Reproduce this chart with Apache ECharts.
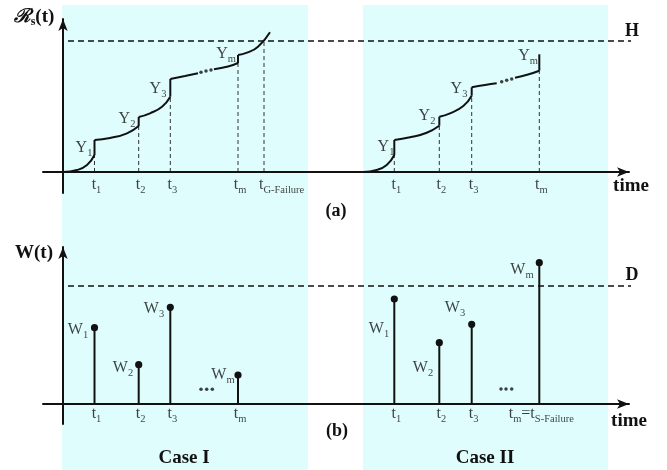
<!DOCTYPE html>
<html><head><meta charset="utf-8">
<script src="https://cdn.jsdelivr.net/npm/echarts@6/dist/echarts.min.js"></script>
<style>html,body{margin:0;padding:0;background:#fff}#c{width:667px;height:470px}</style>
</head><body><div id="c"></div>
<script>
// ---------------- data ----------------
const caseSpans = [[-1, 245], [300, 545]];      // shaded Case I / Case II time spans
const caseNames = ['Case I', 'Case II'];
const H = 131;                                   // threshold H (panel a)
const D = 118;                                   // threshold D (panel b)
const thresholdSpan = [5, 572];

// panel (a): degradation path segments (between shocks)
const pathI = [
  [[0,0],[14,2],[24,7],[31.5,17]],
  [[31.5,32],[47,34],[64,38.7],[75.7,46]],
  [[75.7,55],[87,58.7],[99,65.3],[107.3,75.3]],
  [[107.3,93],[122,96],[135,98.7]],
  [[151,102.7],[165,105.5],[175,109]],
  [[175,117],[184,119.3],[195,125.3],[207,139.7]]
];
const pathII = [
  [[300,0],[313.7,2],[323.7,7],[331.3,17]],
  [[331.3,32],[347,34.7],[363.7,39.3],[376.3,46.3]],
  [[376.3,55.3],[387,58.7],[400.3,66],[408.7,76.3]],
  [[408.7,84.7],[422,87],[433.7,88.7]],
  [[452,94.3],[465,97.5],[476.3,101.3]],
  [[476.3,117.7]]
];
const dotsTopI  = [[138,99.7],[143,101],[148,102]];
const dotsTopII = [[438.7,90.3],[443.7,91.7],[448.7,93]];

// shock times
const tI  = [31.5, 75.7, 107.3, 175];
const tGFail = 201;
const tII = [331.3, 376.3, 408.7, 476.3];
const subs = ['1','2','3','m'];

// panel (b): shock magnitudes
const wI  = [76.3, 39.3, 96.7, 29];
const wII = [105, 61.3, 79.7, 141.3];
const dotsBotI  = [[138,14.7],[143.7,14.7],[149.3,14.7]];
const dotsBotII = [[438,15],[443,15],[448.7,15]];

// ---------------- styling ----------------
const INK = '#111';
const SERIF = '"Liberation Serif","DejaVu Serif",serif';
const rich = {
  m: {fontFamily: SERIF, fontSize: 16, color: INK},
  s: {fontFamily: SERIF, fontSize: 10.5, color: INK, padding: [10,0,0,0]}
};
const sub = (a, b) => `{m|${a}}{s|${b}}`;

const chart = echarts.init(document.getElementById('c'), null, {renderer: 'canvas'});

function axisX(g, show) {
  return {type:'value', gridIndex:g, min:-20, max:566, show: show, z: 4,
    axisLine:{show:true, onZero:true, symbol:['none','arrow'], symbolSize:[7,12], lineStyle:{color:INK, width:2}},
    axisTick:{show:false}, axisLabel:{show:false}, splitLine:{show:false}};
}
function axisY(g, min, max, show) {
  return {type:'value', gridIndex:g, min:min, max:max, show: show, z: 4,
    axisLine:{show:true, onZero:true, symbol:['none','arrow'], symbolSize:[7,12], lineStyle:{color:INK, width:2}},
    axisTick:{show:false}, axisLabel:{show:false}, splitLine:{show:false}};
}

const series = [];
// background shading
series.push({type:'line', xAxisIndex:2, yAxisIndex:2, data:[[0,0]], symbol:'none', lineStyle:{opacity:0}, z:1, silent:true,
  markArea:{silent:true, itemStyle:{color:'#e0fdfd'}, data: caseSpans.map(s => [{xAxis:s[0]},{xAxis:s[1]}])}});

function addPath(path, g) {
  path.forEach((seg, k) => {
    if (seg.length > 1) series.push({type:'line', xAxisIndex:g, yAxisIndex:g, data:seg, smooth:true, symbol:'none',
      lineStyle:{color:INK, width:2}, z:5, silent:true});
    const nxt = path[k+1];
    if (nxt && nxt[0][0] === seg[seg.length-1][0]) {
      series.push({type:'line', xAxisIndex:g, yAxisIndex:g, data:[seg[seg.length-1], nxt[0]], symbol:'none',
        lineStyle:{color:INK, width:2}, z:5, silent:true});
    }
  });
}
addPath(pathI, 0);
addPath(pathII, 0);

// vertical dashed guides (panel a) from axis to pre-jump level
function preJump(path, t) {
  for (const seg of path) { const last = seg[seg.length-1]; if (last[0] === t) return last[1]; }
  return 0;
}
const guides = tI.map(t => [t, preJump(pathI, t)]).concat([[tGFail, H]]).concat(tII.map(t => [t, preJump(pathII, t)]));
series.push({type:'custom', xAxisIndex:0, yAxisIndex:0, data:guides, z:3, silent:true,
  renderItem:(p, api) => {
    const a = api.coord([api.value(0), 0]), b = api.coord([api.value(0), api.value(1)]);
    return {type:'line', shape:{x1:a[0], y1:a[1], x2:b[0], y2:b[1]}, style:{stroke:'#333', lineWidth:1, lineDash:[4,3]}};
  }});

// thresholds
series.push({type:'line', xAxisIndex:0, yAxisIndex:0, data:thresholdSpan.map(x => [x, H]), symbol:'none', clip:false,
  lineStyle:{color:INK, width:1.5, type:[6,4]}, z:4, silent:true});
series.push({type:'line', xAxisIndex:1, yAxisIndex:1, data:thresholdSpan.map(x => [x, D]), symbol:'none', clip:false,
  lineStyle:{color:INK, width:1.5, type:[6,4]}, z:4, silent:true});

// ellipsis dots
[[dotsTopI,0],[dotsTopII,0],[dotsBotI,1],[dotsBotII,1]].forEach(([d,g]) => series.push({
  type:'scatter', xAxisIndex:g, yAxisIndex:g, data:d, symbolSize:3.5, itemStyle:{color:INK}, z:5, silent:true}));

// stems (panel b)
const stems = tI.map((t,i) => [t, wI[i]]).concat(tII.map((t,i) => [t, wII[i]]));
series.push({type:'custom', xAxisIndex:1, yAxisIndex:1, data:stems, z:5, silent:true,
  renderItem:(p, api) => {
    const a = api.coord([api.value(0), 0]), b = api.coord([api.value(0), api.value(1)]);
    return {type:'group', children:[
      {type:'line', shape:{x1:a[0], y1:a[1], x2:b[0], y2:b[1]}, style:{stroke:INK, lineWidth:2}},
      {type:'circle', shape:{cx:b[0], cy:b[1], r:3.6}, style:{fill:INK}}
    ]};
  }});

// text labels anchored in data space
function textSeries(g, items) {
  series.push({type:'scatter', xAxisIndex:g, yAxisIndex:g, symbolSize:0, z:6, silent:true, clip:false,
    data: items.map(it => ({value:[it[0], it[1]], label:{show:true, position:'inside', formatter:it[2],
      align: it[3] || 'center', offset: it[4] || [0,0], rich: rich}}))});
}
const topLabels = [
  [21,24,sub('Y','1')],[64,53,sub('Y','2')],[95,83,sub('Y','3')],[163,118,sub('Y','m')],
  [323,25,sub('Y','1')],[364,56,sub('Y','2')],[396,83,sub('Y','3')],[465,116,sub('Y','m')]
];
tI.forEach((t,i) => topLabels.push([t,-13,sub('t',subs[i]),'center',[2,0]]));
tII.forEach((t,i) => topLabels.push([t,-13,sub('t',subs[i]),'center',[2,0]]));
topLabels.push([tGFail-5,-13,sub('t','G-Failure'),'left']);
textSeries(0, topLabels);

const botLabels = [
  [15,74,sub('W','1')],[60,36,sub('W','2')],[91,95,sub('W','3')],[160,29,sub('W','m')],
  [316,75,sub('W','1')],[360,36,sub('W','2')],[392,96,sub('W','3')],[459,134,sub('W','m')]
];
tI.forEach((t,i) => botLabels.push([t,-10,sub('t',subs[i]),'center',[2,0]]));
tII.slice(0,3).forEach((t,i) => botLabels.push([t,-10,sub('t',subs[i]),'center',[2,0]]));
botLabels.push([tII[3],-10,'{m|t}{s|m}{m|=t}{s|S-Failure}','center',[2,0]]);
textSeries(1, botLabels);

const bold = (txt, x, y, size) => ({type:'text', x:x, y:y, z:20, silent:true,
  style:{text:txt, fontFamily:SERIF, fontWeight:'bold', fontSize:size||19, fill:INK, align:'center', verticalAlign:'middle'}});

chart.setOption({
  animation:false,
  backgroundColor:'#fff',
  grid:[
    {left:43, top:19, width:586, height:174, containLabel:false},
    {left:43, top:247, width:586, height:177, containLabel:false},
    {left:43, top:5, width:586, height:465, containLabel:false}
  ],
  xAxis:[axisX(0,true), axisX(1,true), axisX(2,false)],
  yAxis:[axisY(0,-21,153,true), axisY(1,-20,157,true), axisY(2,0,1,false)],
  series: series,
  graphic:[
    {type:'text', x:34, y:17, z:20, silent:true, style:{
      text:'{r|ℛ}{s|s}{p|(t)}', verticalAlign:'middle', align:'center',
      rich:{r:{fontFamily:SERIF, fontWeight:'bold', fontStyle:'italic', fontSize:19, fill:INK},
            s:{fontFamily:SERIF, fontWeight:'bold', fontSize:12, fill:INK, padding:[10,0,0,0]},
            p:{fontFamily:SERIF, fontWeight:'bold', fontSize:19, fill:INK}}}},
    bold('W(t)', 34, 253),
    bold('H', 632, 31, 18),
    bold('D', 632, 275, 18),
    bold('time', 631, 186),
    bold('time', 629, 421),
    bold('(a)', 336, 211, 18),
    bold('(b)', 337, 431, 18),
    bold(caseNames[0], 184, 458),
    bold(caseNames[1], 485, 458)
  ]
});
</script></body></html>
